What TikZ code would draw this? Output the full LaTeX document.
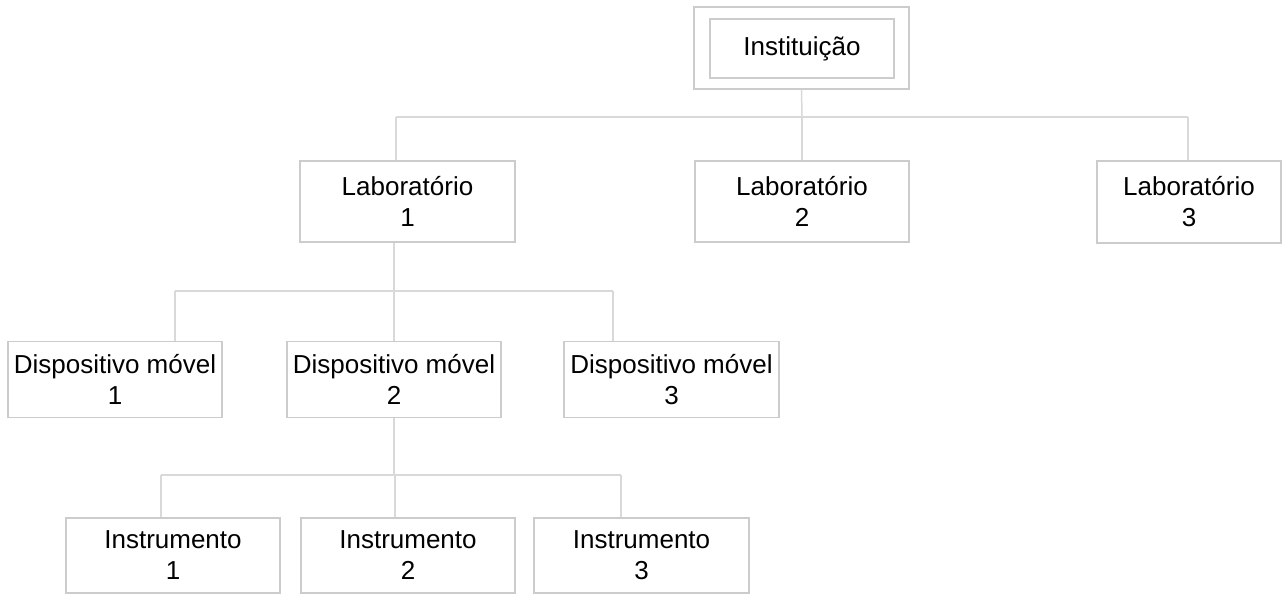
\documentclass[tikz,border=0pt]{standalone}
\usepackage{fontspec}
\setmainfont{Liberation Sans}
\begin{document}
\begin{tikzpicture}[x=1pt,y=-1pt,
  box/.style={draw=black!20,line width=1.3pt,align=center,inner sep=0pt,
    font=\fontsize{26}{31}\selectfont,text=black},
  conn/.style={draw=black!15,line width=1.5pt}]
\useasboundingbox (0,0) rectangle (1283,594);
% top
\node[draw=black!20,line width=1.3pt,minimum width=215pt,minimum height=82pt,inner sep=0pt] (instout) at (801.5,48) {};
\node[box,minimum width=184pt,minimum height=59pt] (inst) at (802,48.5) {Instituição};
% labs
\node[box,minimum width=215pt,minimum height=81pt] (lab1) at (407.5,201.5) {Laboratório\\1};
\node[box,minimum width=214pt,minimum height=81pt] (lab2) at (802,201.5) {Laboratório\\2};
\node[box,minimum width=184pt,minimum height=82pt] (lab3) at (1189,202) {Laboratório\\3};
% devices
\node[box,minimum width=214pt,minimum height=76pt] (d1) at (115,379.5) {Dispositivo móvel\\1};
\node[box,minimum width=214pt,minimum height=76pt] (d2) at (394,379.5) {Dispositivo móvel\\2};
\node[box,minimum width=215pt,minimum height=76pt] (d3) at (671.5,379.5) {Dispositivo móvel\\3};
% instruments
\node[box,minimum width=214pt,minimum height=75pt] (i1) at (173,555.5) {Instrumento\\1};
\node[box,minimum width=214pt,minimum height=75pt] (i2) at (408,555.5) {Instrumento\\2};
\node[box,minimum width=215pt,minimum height=75pt] (i3) at (641.5,555.5) {Instrumento\\3};
% junction coordinates
\coordinate (a0) at (802,117);
\coordinate (a1) at (396,117);
\coordinate (a2) at (802,117);
\coordinate (a3) at (1188,117);
\coordinate (b0) at (394,291);
\coordinate (b1) at (175,291);
\coordinate (b2) at (394,291);
\coordinate (b3) at (613,291);
\coordinate (c0) at (394,475);
\coordinate (c1) at (161,475);
\coordinate (c2) at (395,475);
\coordinate (c3) at (621,475);
% connectors
\draw[conn] (instout.south) -- (a0);
\draw[conn] (a1) -- (a3);
\draw[conn] (a1) -- (a1 |- lab1.north);
\draw[conn] (a2) -- (lab2.north);
\draw[conn] (a3) -- (a3 |- lab3.north);
\draw[conn] (b0 |- lab1.south) -- (b0);
\draw[conn] (b1) -- (b3);
\draw[conn] (b1) -- (b1 |- d1.north);
\draw[conn] (b2) -- (d2.north);
\draw[conn] (b3) -- (b3 |- d3.north);
\draw[conn] (d2.south) -- (c0);
\draw[conn] (c1) -- (c3);
\draw[conn] (c1) -- (c1 |- i1.north);
\draw[conn] (c2) -- (c2 |- i2.north);
\draw[conn] (c3) -- (c3 |- i3.north);
\end{tikzpicture}
\end{document}
